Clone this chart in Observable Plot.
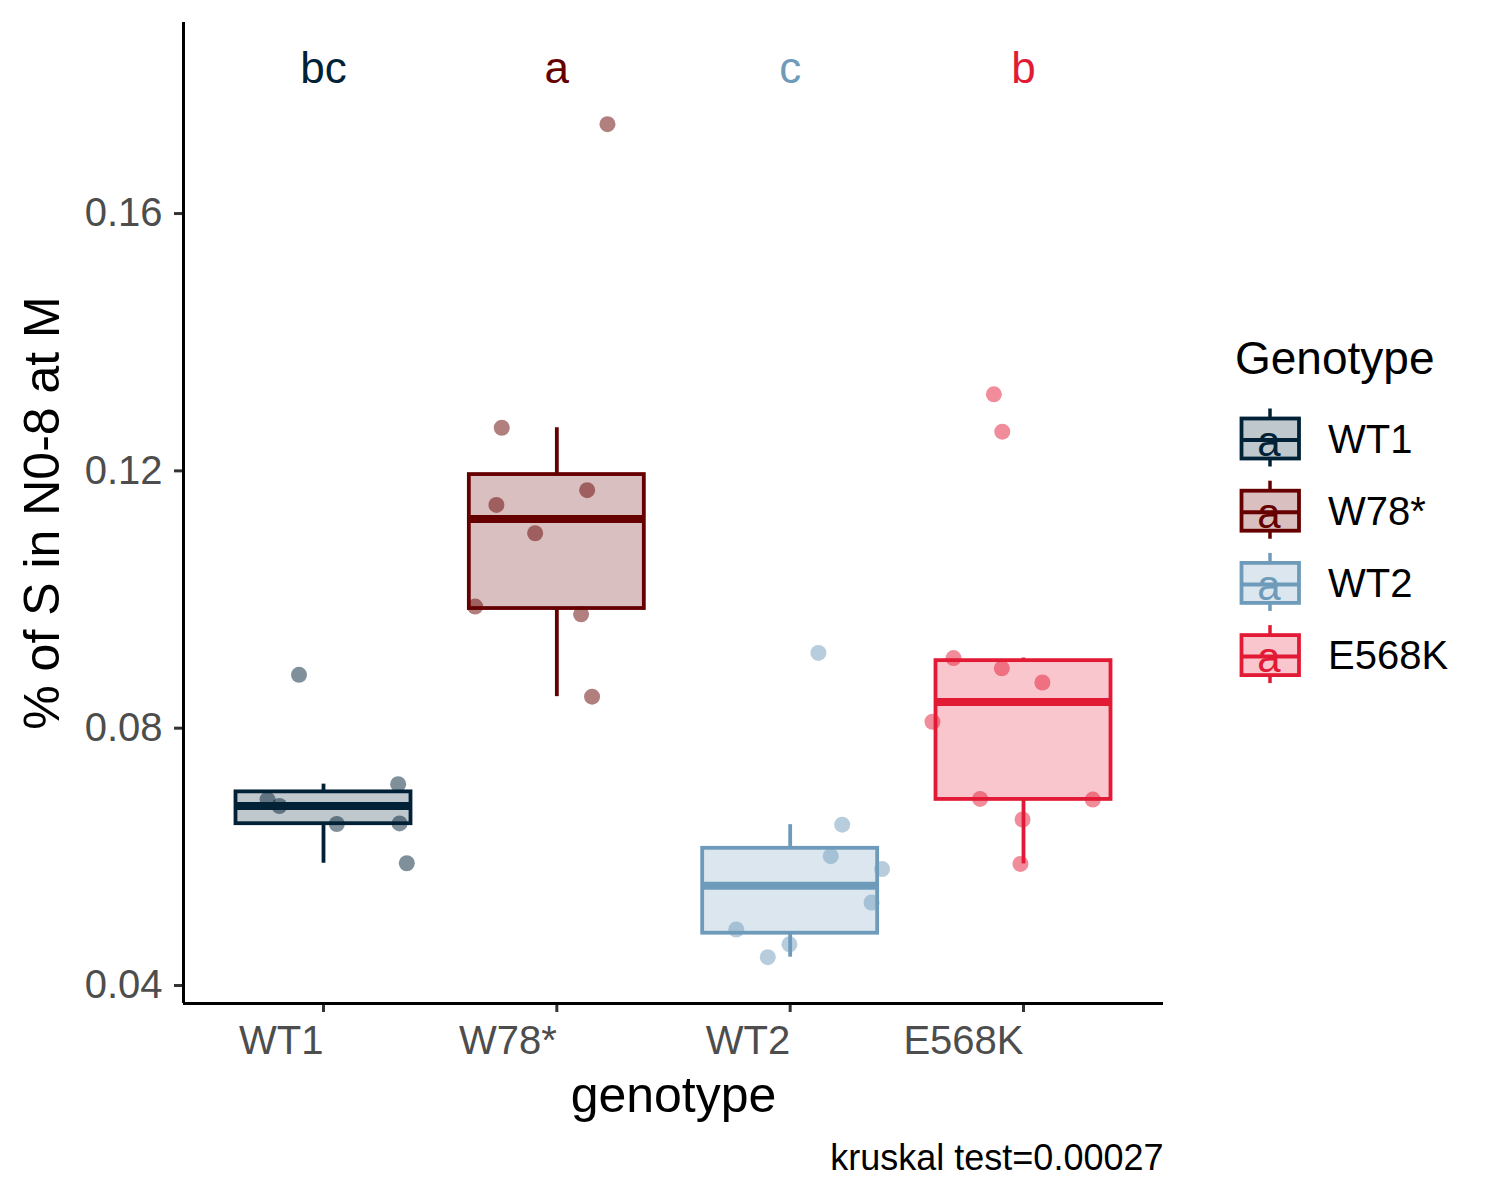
<!DOCTYPE html>
<html>
<head>
<meta charset="utf-8">
<script src="https://cdn.jsdelivr.net/npm/d3@7"></script>
<script src="https://cdn.jsdelivr.net/npm/@observablehq/plot@0.6"></script>
<style>
  body { margin: 0; background: #fff; }
  #chart { position: relative; width: 1500px; height: 1200px; }
</style>
</head>
<body>
<div id="chart"></div>
<script>
// ---- data ----
const genotypes = ["WT1", "W78*", "WT2", "E568K"];
const colors = ["#012236", "#660000", "#6f9bbb", "#e31a35"];
const letters = ["bc", "a", "c", "b"];
const letterY = 0.1825;

const wt1Values = [0.0883, 0.0713, 0.0689, 0.0679, 0.0651, 0.0652, 0.0590];
const wt1Jitter = [-0.105, 0.320, -0.240, -0.189, 0.057, 0.326, 0.357];
const w78Values = [0.1739, 0.1267, 0.1147, 0.1170, 0.1103, 0.0989, 0.0977, 0.0849];
const w78Jitter = [0.217, -0.236, -0.259, 0.130, -0.093, -0.350, 0.104, 0.151];
const wt2Values = [0.0917, 0.0650, 0.0601, 0.0581, 0.0529, 0.0487, 0.0464, 0.0444];
const wt2Jitter = [0.121, 0.223, 0.174, 0.394, 0.349, -0.231, -0.003, -0.096];
const e568kValues = [0.1319, 0.1261, 0.0909, 0.0893, 0.0871, 0.0810, 0.0690, 0.0689, 0.0658, 0.0589];
const e568kJitter = [-0.127, -0.091, -0.300, -0.093, 0.081, -0.390, -0.186, 0.297, -0.004, -0.013];

const yTicks = [0.04, 0.08, 0.12, 0.16];
const yDomain = [0.0372, 0.1897];
const xDomain = [0.4, 4.6];
const caption = "kruskal test=0.00027";

// ---- build tables ----
const groupValues = [wt1Values, w78Values, wt2Values, e568kValues];
const groupJitter = [wt1Jitter, w78Jitter, wt2Jitter, e568kJitter];
const points = [];
groupValues.forEach((vals, i) => vals.forEach((v, j) =>
  points.push({genotype: genotypes[i], pos: i + 1, value: v, jitter: groupJitter[i][j]})));

const stats = groupValues.map((vals, i) => {
  const s = vals.slice().sort(d3.ascending);
  const q1 = d3.quantile(s, 0.25), med = d3.quantile(s, 0.5), q3 = d3.quantile(s, 0.75);
  const iqr = q3 - q1;
  const lo = d3.min(s.filter(v => v >= q1 - 1.5 * iqr));
  const hi = d3.max(s.filter(v => v <= q3 + 1.5 * iqr));
  return {genotype: genotypes[i], pos: i + 1, q1, med, q3, lo, hi, letter: letters[i]};
});

const half = 0.375;
const font = "'Liberation Sans', Arial, Helvetica, sans-serif";

const plot = Plot.plot({
  width: 1500,
  height: 1200,
  marginLeft: 183,
  marginRight: 337,
  marginTop: 22,
  marginBottom: 197,
  style: {fontFamily: font, background: "#fff", color: "#000"},
  x: {domain: xDomain},
  y: {domain: yDomain},
  color: {domain: genotypes, range: colors},
  marks: [
    Plot.ruleX(stats, {x: "pos", y1: "q3", y2: "hi", stroke: "genotype", strokeWidth: 3.8}),
    Plot.ruleX(stats, {x: "pos", y1: "lo", y2: "q1", stroke: "genotype", strokeWidth: 3.8}),
    Plot.rect(stats, {x1: d => d.pos - half, x2: d => d.pos + half, y1: "q1", y2: "q3",
      fill: "genotype", fillOpacity: 0.25, stroke: "genotype", strokeWidth: 3.8}),
    Plot.ruleY(stats, {y: "med", x1: d => d.pos - half, x2: d => d.pos + half,
      stroke: "genotype", strokeWidth: 8}),
    Plot.dot(points, {x: d => d.pos + d.jitter, y: "value", r: 8, fill: "genotype",
      fillOpacity: 0.5, stroke: null}),
    Plot.text(stats, {x: "pos", y: () => letterY, text: "letter", fill: "genotype", fontSize: 44}),
    Plot.axisY({ticks: yTicks, tickFormat: d3.format(".2f"), tickSize: 9, tickPadding: 12,
      fontSize: 40, fill: "#4d4d4d", stroke: "#333", strokeWidth: 3, label: null}),
    Plot.axisX({ticks: [1, 2, 3, 4], tickFormat: d => genotypes[d - 1], tickSize: 9, tickPadding: 13,
      fontSize: 40, fill: "#4d4d4d", stroke: "#333", strokeWidth: 3, textAnchor: "end", label: null}),
    Plot.ruleX([xDomain[0]], {stroke: "#000", strokeWidth: 3}),
    Plot.ruleY([yDomain[0]], {stroke: "#000", strokeWidth: 3}),
    Plot.text(["genotype"], {frameAnchor: "bottom", dy: 92, fontSize: 50, fill: "#000",
      lineAnchor: "middle", textAnchor: "middle"}),
    Plot.text(["% of S in N0-8 at M"], {frameAnchor: "left", dx: -141, rotate: -90, fontSize: 50,
      fill: "#000", textAnchor: "middle", lineAnchor: "middle"}),
    Plot.text([caption], {frameAnchor: "bottom-right", dy: 155, fontSize: 36, textAnchor: "end",
      lineAnchor: "middle", fill: "#000"})
  ]
});

// ---- legend ----
const svg = d3.select(plot);
const lg = svg.append("g").attr("font-family", font).attr("text-anchor", "start");
lg.append("text").attr("x", 1235).attr("y", 374).attr("font-size", 46).attr("fill", "#000")
  .attr("text-anchor", "start").text("Genotype");
genotypes.forEach((g, i) => {
  const cy = 438.5 + i * 72.2, cx = 1270, c = colors[i];
  const row = lg.append("g");
  row.append("line").attr("x1", cx).attr("x2", cx).attr("y1", cy - 30).attr("y2", cy + 28)
    .attr("stroke", c).attr("stroke-width", 3.5);
  row.append("rect").attr("x", 1241.5).attr("y", cy - 20).attr("width", 57.5).attr("height", 40)
    .attr("fill", "#fff").attr("stroke", "none");
  row.append("rect").attr("x", 1241.5).attr("y", cy - 20).attr("width", 57.5).attr("height", 40)
    .attr("fill", c).attr("fill-opacity", 0.25).attr("stroke", c).attr("stroke-width", 3.8);
  row.append("line").attr("x1", 1241.5).attr("x2", 1299).attr("y1", cy + 1.5).attr("y2", cy + 1.5)
    .attr("stroke", c).attr("stroke-width", 4);
  row.append("text").attr("x", cx - 1).attr("y", cy + 17).attr("text-anchor", "middle")
    .attr("font-size", 42).attr("fill", c).text("a");
  row.append("text").attr("x", 1328).attr("y", cy + 14).attr("font-size", 40).attr("fill", "#000")
    .attr("text-anchor", "start").text(g);
});

document.getElementById("chart").appendChild(plot);
</script>
</body>
</html>
